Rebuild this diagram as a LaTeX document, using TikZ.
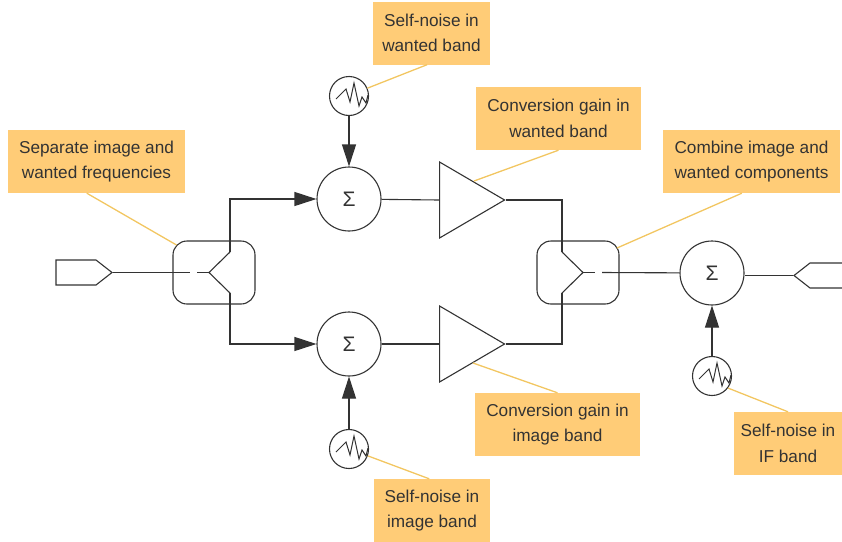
\documentclass[tikz,border=0pt]{standalone}
\usepackage{fontspec}
\setmainfont{Liberation Sans}
\usetikzlibrary{arrows.meta,shapes.geometric,shapes.symbols}
\definecolor{inkgray}{HTML}{333333}
\definecolor{notefill}{HTML}{FFCC77}
\definecolor{leadcol}{HTML}{F2C661}
\tikzset{
note/.style={rectangle,fill=notefill,text=inkgray,align=center,font=\fontsize{17.2}{25.5}\selectfont,inner sep=0pt,minimum height=63pt},
leader/.style={draw=leadcol,line width=1.3pt},
wire/.style={draw=inkgray,line width=1.1pt},
feed/.style={wire,-{Triangle[length=22pt,width=14pt]}},
sumnode/.style={circle,draw=inkgray,line width=1.1pt,minimum size=64pt,inner sep=0pt,text=inkgray,font=\fontsize{21}{21}\selectfont},
noise/.style={circle,draw=inkgray,line width=1.1pt,minimum size=39pt,inner sep=0pt,path picture={
\draw[inkgray,line width=1pt,shift={(path picture bounding box.center)}] (-13,3)--(-3,-7)--(1,6)--(5,-13)--(10,10)--(13,1)--(17,7)--(19,-1);}},
amp/.style={isosceles triangle,isosceles triangle apex angle=60,isosceles triangle stretches,draw=inkgray,line width=1.1pt,minimum width=76pt,minimum height=65pt,inner sep=0pt,anchor=lower side},
block/.style={rectangle,rounded corners=14pt,draw=inkgray,line width=1.1pt,minimum width=82pt,minimum height=63pt},
port/.style={signal,draw=inkgray,line width=1.1pt,minimum height=25pt,inner sep=0pt,signal pointer angle=76}
}
\begin{document}
\begin{tikzpicture}[x=1pt,y=-1pt]
\useasboundingbox (0,0) rectangle (842,541);
\node[note,minimum width=117pt] (nwtxt) at (431.5,33) {Self-noise in\\wanted band};
\node[note,minimum width=165pt] (cwtxt) at (558.5,118.5) {Conversion gain in\\wanted band};
\node[note,minimum width=177pt] (septxt) at (96.5,161.5) {Separate image and\\wanted frequencies};
\node[note,minimum width=177pt] (comtxt) at (751.5,161.5) {Combine image and\\wanted components};
\node[note,minimum width=165pt] (citxt) at (557.5,424.5) {Conversion gain in\\image band};
\node[note,minimum width=116pt] (nitxt) at (432,510.5) {Self-noise in\\image band};
\node[note,minimum width=108pt] (iftxt) at (788,443.5) {Self-noise in\\IF band};
\node[port,signal to=east,minimum width=56pt] (in) at (76,272.5) {};
\node[port,signal to=west,minimum width=56pt] (out) at (830,275.5) {};
\node[block] (sep) at (214,272.5) {};
\node[block] (com) at (578,272.5) {};
\node[sumnode] (sumw) at (349,199) {Σ};
\node[sumnode] (sumi) at (349,344) {Σ};
\node[sumnode] (sumf) at (712,273) {Σ};
\node[noise] (nw) at (349,96) {};
\node[noise] (ni) at (349,449) {};
\node[noise] (nf) at (712,376) {};
\node[amp] (ampw) at (439,200) {};
\node[amp] (ampi) at (439,344) {};
\coordinate (sepa) at (209,272.5);
\coordinate (sepb) at (190,272.5);
\coordinate (sepc) at (197,272.5);
\coordinate (sepu) at (230,252);
\coordinate (sepd) at (230,293);
\coordinate (coma) at (583,272.5);
\coordinate (comb) at (595,272.5);
\coordinate (comc) at (602,272.5);
\coordinate (comu) at (562,252);
\coordinate (comd) at (562,293);
\coordinate (sepl) at (176.5,245);
\coordinate (coml) at (617,248);
\coordinate (ampwl) at (474,181);
\coordinate (ampil) at (473,363);
\draw[wire] (in.east) -- (sepb);
\draw[wire] (sepc) -- (sepa);
\draw[wire] (sepu) -- (sepa) -- (sepd);
\draw[feed] (sepu) |- (sumw);
\draw[feed] (sepd) |- (sumi);
\draw[feed] (nw) -- (sumw);
\draw[feed] (ni) -- (sumi);
\draw[feed] (nf) -- (sumf);
\draw[wire] (sumw) -- (ampw.lower side);
\draw[wire] (sumi) -- (ampi.lower side);
\draw[wire] (ampw.apex) -| (comu);
\draw[wire] (ampi.apex) -| (comd);
\draw[wire] (comu) -- (coma) -- (comd);
\draw[wire] (coma) -- (comb);
\draw[wire] (comc) -- (sumf);
\draw[wire] (sumf.east |- out.west) -- (out.west);
\draw[leader] (nwtxt.-98) -- (nw.23);
\draw[leader] (cwtxt.south) -- (ampwl);
\draw[leader] (septxt.-107) -- (sepl);
\draw[leader] (comtxt.-107) -- (coml);
\draw[leader] (citxt.north) -- (ampil);
\draw[leader] (nitxt.95) -- (ni.-20);
\draw[leader] (iftxt.north) -- (nf.-37);
\end{tikzpicture}
\end{document}
